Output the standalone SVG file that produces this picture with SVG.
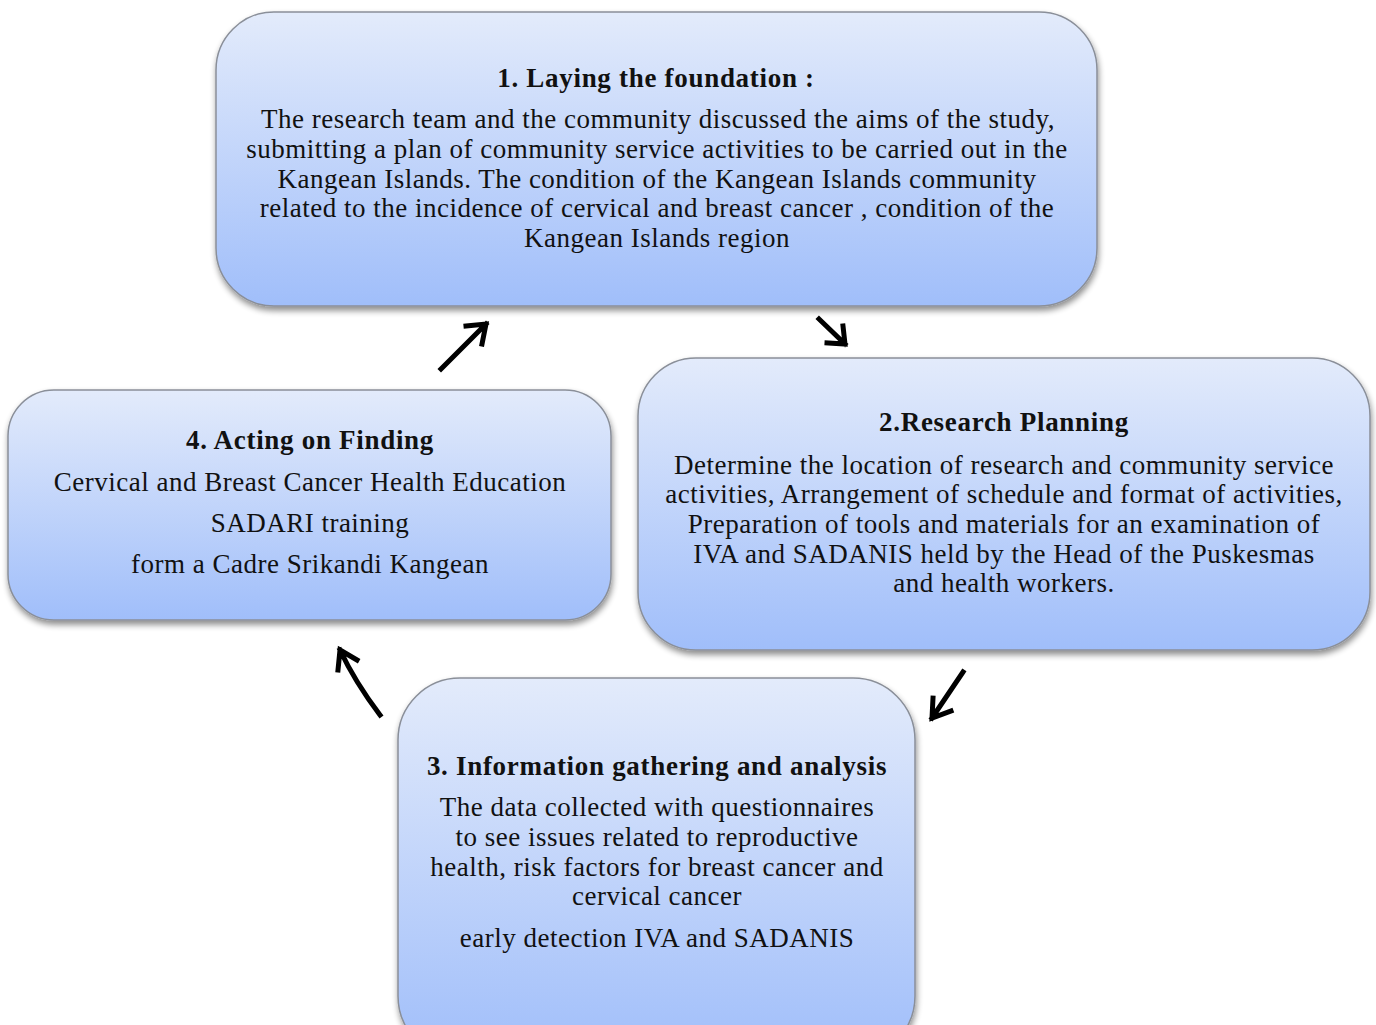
<svg xmlns="http://www.w3.org/2000/svg" width="1376" height="1025" viewBox="0 0 1376 1025">
<defs>
<linearGradient id="g" x1="0" y1="0" x2="0" y2="1">
<stop offset="0" stop-color="#e3ebfb"/>
<stop offset="1" stop-color="#a0befa"/>
</linearGradient>
<filter id="sh" x="-5%" y="-5%" width="110%" height="115%">
<feGaussianBlur in="SourceAlpha" stdDeviation="3"/>
<feOffset dx="1" dy="4" result="b"/>
<feComponentTransfer><feFuncA type="linear" slope="0.45"/></feComponentTransfer>
<feMerge><feMergeNode/><feMergeNode in="SourceGraphic"/></feMerge>
</filter>
</defs>
<style>
.box{fill:url(#g);stroke:#8a8f99;stroke-width:1.5;filter:url(#sh)}
text{font-family:"Liberation Serif","Times New Roman",serif;font-size:27px;letter-spacing:0.5px;fill:#111;text-anchor:middle}
.t{font-weight:bold;letter-spacing:0.7px}
.a{fill:none;stroke:#000;stroke-width:5;stroke-linecap:square;stroke-linejoin:miter}
</style>
<rect width="1376" height="1025" fill="#fff"/>
<g id="node1">
<rect class="box" x="216" y="12" width="881" height="294" rx="58"/>
<text class="t" x="656" y="87">1. Laying the foundation :</text>
<text x="658" y="128">The research team and the community discussed the aims of the study,</text>
<text x="657" y="158">submitting a plan of community service activities to be carried out in the</text>
<text x="657" y="188">Kangean Islands. The condition of the Kangean Islands community</text>
<text x="657" y="217">related to the incidence of cervical and breast cancer , condition of the</text>
<text x="657" y="247">Kangean Islands region</text>
</g>
<g id="node2">
<rect class="box" x="638" y="358" width="732" height="292" rx="58"/>
<text class="t" x="1004" y="431">2.Research Planning</text>
<text x="1004" y="474">Determine the location of research and community service</text>
<text x="1004" y="503">activities, Arrangement of schedule and format of activities,</text>
<text x="1004" y="533">Preparation of tools and materials for an examination of</text>
<text x="1004" y="563">IVA and SADANIS held by the Head of the Puskesmas</text>
<text x="1004" y="592">and health workers.</text>
</g>
<g id="node3">
<rect class="box" x="398" y="678" width="517" height="380" rx="62"/>
<text class="t" x="657" y="775">3. Information gathering and analysis</text>
<text x="657" y="816">The data collected with questionnaires</text>
<text x="657" y="846">to see issues related to reproductive</text>
<text x="657" y="876">health, risk factors for breast cancer and</text>
<text x="657" y="905">cervical cancer</text>
<text x="657" y="947">early detection IVA and SADANIS</text>
</g>
<g id="node4">
<rect class="box" x="8" y="390" width="603" height="230" rx="46"/>
<text class="t" x="310" y="449">4. Acting on Finding</text>
<text x="310" y="491">Cervical and Breast Cancer Health Education</text>
<text x="310" y="532">SADARI training</text>
<text x="310" y="573">form a Cadre Srikandi Kangean</text>
</g>
<g id="connectors">
<path class="a" d="M441 369 L486 324 M466 326 L486 324 L482 344"/>
<path class="a" d="M819 319 L845 344 M843 326 L845 344 L827 343"/>
<path class="a" d="M963 672 L932 718 M933 698 L932 718 L951 711"/>
<path class="a" d="M380 715 Q355 682 340 650 M338 670 L340 650 L357 660"/>
</g>
</svg>
